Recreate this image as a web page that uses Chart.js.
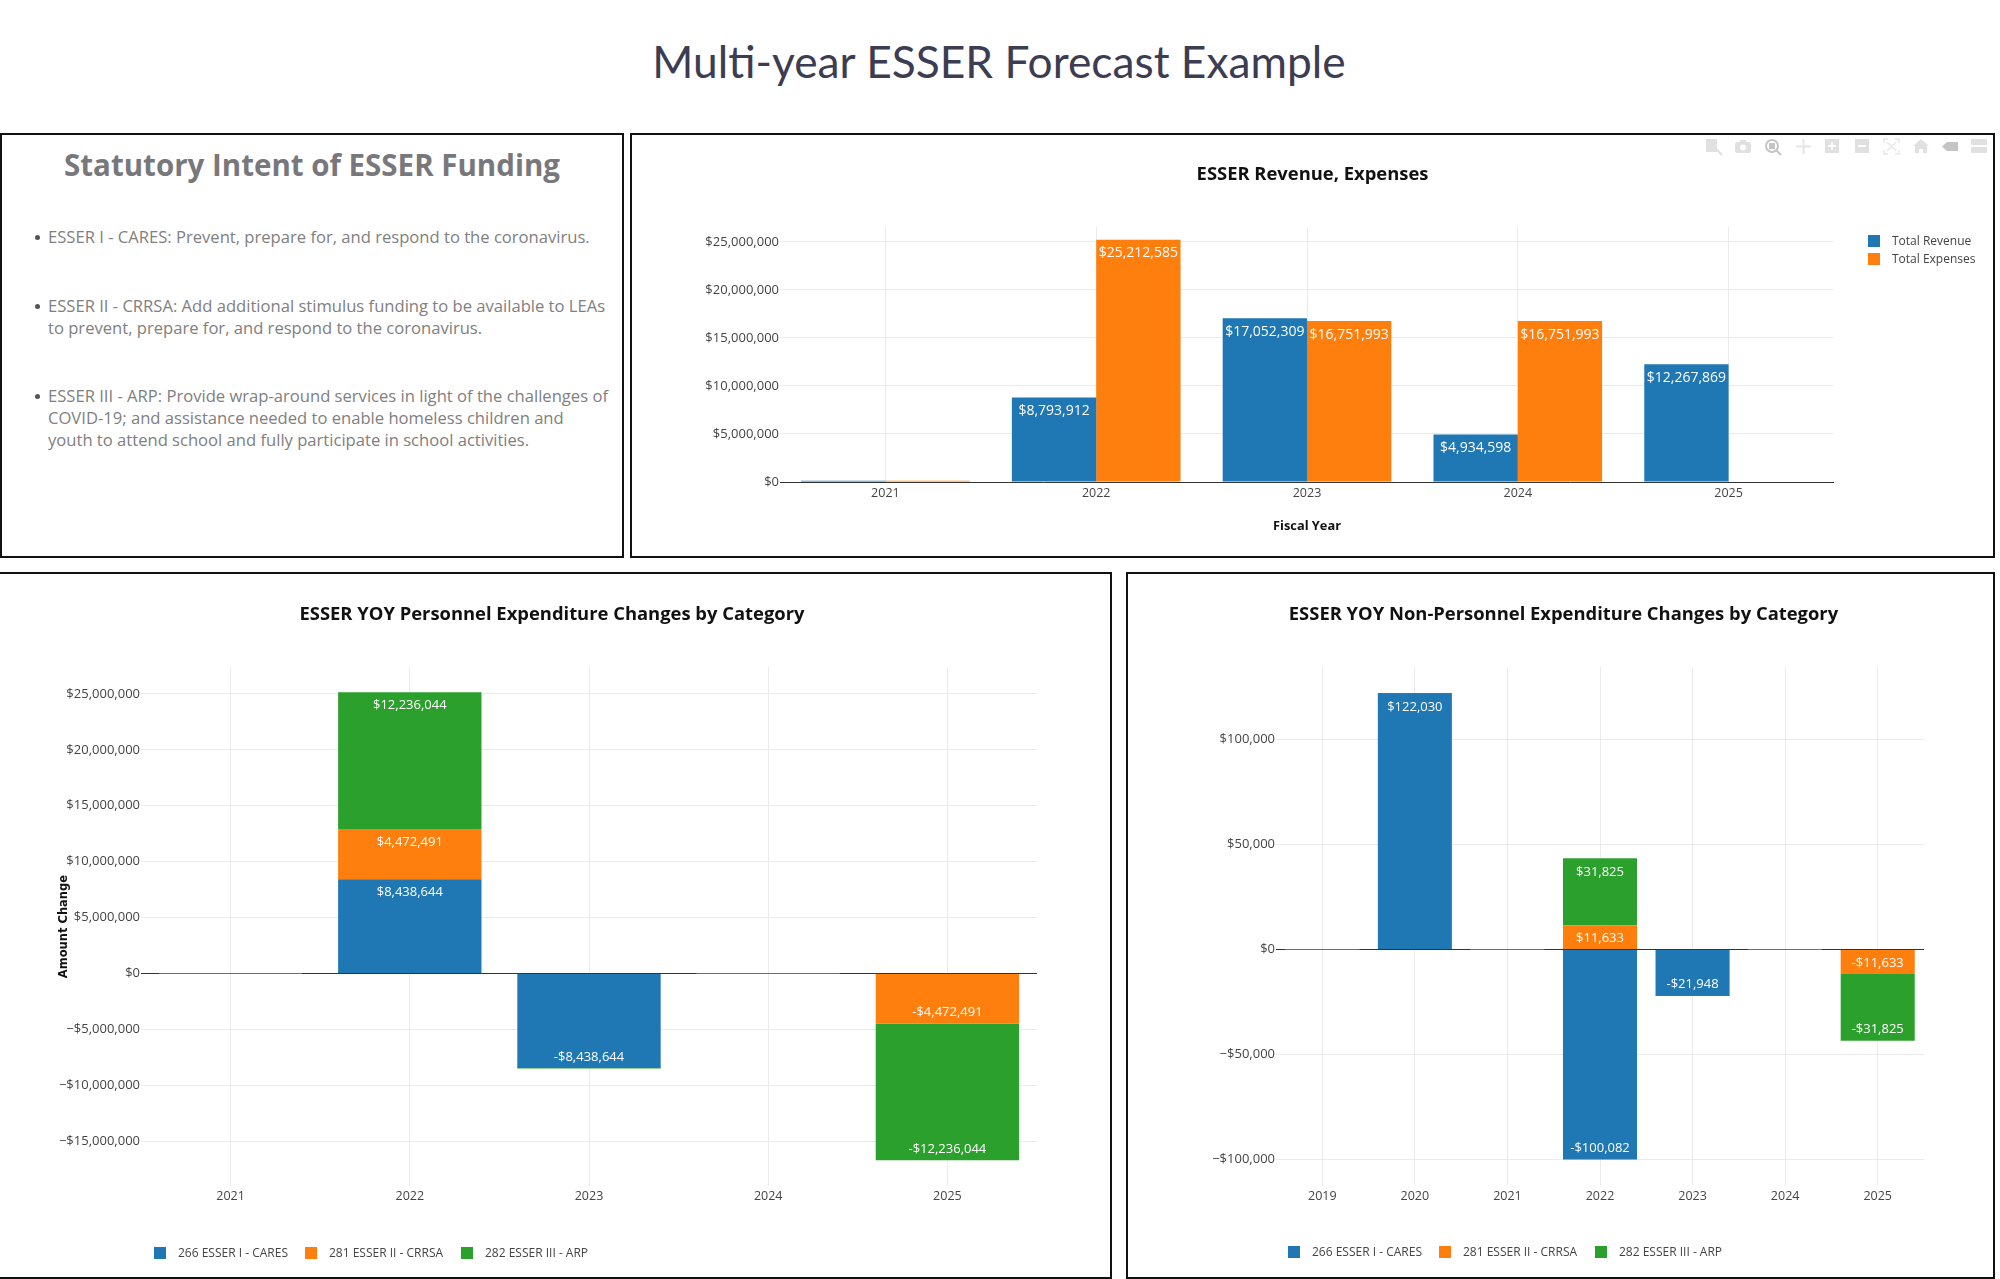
<!DOCTYPE html>
<html>
<head>
<meta charset="utf-8">
<title>Multi-year ESSER Forecast Example</title>
<script src="https://cdn.jsdelivr.net/npm/chart.js@4/dist/chart.umd.min.js"></script>
<style>
  html, body { margin: 0; padding: 0; background: #fff; }
  body { position: relative; width: 2000px; height: 1279px; overflow: hidden; font-family: "Open Sans", sans-serif; }
  h1 { position: absolute; left: 0; width: 1998px; top: 31px; margin: 0; text-align: center; font: 400 44.3px/60px Lato, sans-serif; color: #3c3c52; }
  .panel { position: absolute; box-sizing: border-box; border: 2px solid #111; background: #fff; }
  canvas { position: absolute; }
  #intent h2 { position: absolute; left: 0; width: 620px; top: 10px; margin: 0; text-align: center; font: 700 29.5px/40px "Open Sans", sans-serif; color: #78787c; }
  #intent p { position: absolute; left: 46px; margin: 0; font: 400 16.6px/22px "Open Sans", sans-serif; color: #808080; white-space: nowrap; }
  #intent p::before { content: ""; position: absolute; left: -13px; top: 9px; width: 5px; height: 5px; border-radius: 50%; background: #555; }
  .legend { position: absolute; font-size: 12px; line-height: 16px; color: #444; white-space: nowrap; }
  .legend i { position: absolute; width: 12px; height: 12px; top: 2px; left: 0; }
  .legend span { position: absolute; left: 24px; top: 0; }
  #modebar { position: absolute; left: 1703px; top: 136px; }
</style>
</head>
<body>
<h1>Multi-year ESSER Forecast Example</h1>

<div class="panel" id="intent" style="left:0;top:133px;width:624px;height:425px">
  <h2>Statutory Intent of ESSER Funding</h2>
  <p style="top:91px">ESSER I - CARES: Prevent, prepare for, and respond to the coronavirus.</p>
  <p style="top:160px">ESSER II - CRRSA: Add additional stimulus funding to be available to LEAs<br>to prevent, prepare for, and respond to the coronavirus.</p>
  <p style="top:250px">ESSER III - ARP: Provide wrap-around services in light of the challenges of<br>COVID-19; and assistance needed to enable homeless children and<br>youth to attend school and fully participate in school activities.</p>
</div>

<div class="panel" style="left:630px;top:133px;width:1365px;height:425px"></div>
<div class="panel" style="left:-2px;top:572px;width:1114px;height:707px"></div>
<div class="panel" style="left:1126px;top:572px;width:869px;height:707px"></div>

<canvas id="revenueChart" width="1361" height="421" style="left:632px;top:135px"></canvas>
<canvas id="personnelChart" width="1110" height="703" style="left:-3px;top:574px"></canvas>
<canvas id="nonPersonnelChart" width="865" height="703" style="left:1131px;top:574px"></canvas>

<div class="legend" id="revenueLegend"></div>
<div class="legend" id="personnelLegend"></div>
<div class="legend" id="nonPersonnelLegend"></div>

<svg id="modebar" width="290" height="22" fill="#e0e0e0" stroke="none">
  <g transform="translate(3,3)"><rect width="11" height="13"/><path d="M10 10l6 6" stroke="#e0e0e0" stroke-width="2"/></g>
  <g transform="translate(32,4)"><rect y="2" width="16" height="11" rx="2"/><rect x="5" width="6" height="3"/><circle cx="8" cy="7.5" r="3" fill="#fff"/></g>
  <g transform="translate(62,3)"><circle cx="7" cy="7" r="6" fill="#fff" stroke="#c4c4c4" stroke-width="2"/><rect x="4" y="4" width="6" height="6" fill="#c4c4c4"/><path d="M11 11l5 5" stroke="#c4c4c4" stroke-width="2"/></g>
  <g transform="translate(93,3)"><path d="M0 7.5h15M7.5 0v15" stroke="#e6e6e6" stroke-width="2"/></g>
  <g transform="translate(122,3)"><rect width="14" height="14"/><path d="M7 3v8M3 7h8" stroke="#fff" stroke-width="2"/></g>
  <g transform="translate(152,3)"><rect width="14" height="14"/><path d="M3 7h8" stroke="#fff" stroke-width="2"/></g>
  <g transform="translate(181,3)"><path d="M0 4V0h4M11 0h4v4M15 11v4h-4M4 15H0v-4M3 3l9 9M12 3l-9 9" fill="none" stroke="#e8e8e8" stroke-width="1.5"/></g>
  <g transform="translate(211,3)"><path d="M7 0l8 7h-2v7H9v-4H5v4H1V7H-1z"/></g>
  <g transform="translate(239,6)"><path d="M0 4.5L5 0h11v9H5z" fill="#c4c4c4"/></g>
  <g transform="translate(268,3)"><rect y="0" width="16" height="6" rx="1"/><rect y="8" width="16" height="6" rx="1"/></g>
</svg>

<script>
// Chart data
const revenueYears = ["2021", "2022", "2023", "2024", "2025"];
const totalRevenue = [122030, 8793912, 17052309, 4934598, 12267869];
const totalExpenses = [122030, 25212585, 16751993, 16751993, 0];
const revenueTicks = [0, 5000000, 10000000, 15000000, 20000000, 25000000];

// null = no mark at all, 0 = the thin line the last trace leaves on the zero line
const personnelYears = ["2021", "2022", "2023", "2024", "2025"];
const personnelCares = [null, 8438644, -8438644, null, null];
const personnelCrrsa = [null, 4472491, null, null, -4472491];
const personnelArp = [0, 12236044, 0, 0, -12236044];
const personnelTicks = [-15000000, -10000000, -5000000, 0, 5000000, 10000000, 15000000, 20000000, 25000000];

const nonPersonnelYears = ["2019", "2020", "2021", "2022", "2023", "2024", "2025"];
const nonPersonnelCares = [null, 122030, null, -100082, -21948, null, null];
const nonPersonnelCrrsa = [null, null, null, 11633, null, null, -11633];
const nonPersonnelArp = [0, 0, 0, 31825, 0, 0, -31825];
const nonPersonnelTicks = [-100000, -50000, 0, 50000, 100000];

const BLUE = "#1f77b4";
const ORANGE = "#ff7f0e";
const GREEN = "#2ca02c";
const FONT = "'Open Sans', sans-serif";

function money(v, minus) {
  return (v < 0 ? minus : "") + "$" + Math.abs(v).toLocaleString("en-US");
}

// White value labels inside the end of each bar
const barValueLabels = {
  id: "barValueLabels",
  afterDatasetsDraw(chart, args, opts) {
    const ctx = chart.ctx;
    ctx.save();
    ctx.fillStyle = "#fff";
    ctx.font = opts.size + "px " + FONT;
    ctx.textAlign = "center";
    ctx.textBaseline = "middle";
    chart.data.datasets.forEach((ds, i) => {
      chart.getDatasetMeta(i).data.forEach((bar, j) => {
        const v = ds.data[j];
        if (!v || Math.abs(bar.y - bar.base) < 16) return;
        ctx.fillText(money(v, "-"), bar.x, v < 0 ? bar.y - 11 : bar.y + 13.5);
      });
    });
    ctx.restore();
  }
};

function makeChart(id, cfg) {
  return new Chart(document.getElementById(id), {
    type: "bar",
    data: { labels: cfg.labels, datasets: cfg.datasets },
    plugins: [barValueLabels],
    options: {
      responsive: false,
      animation: false,
      devicePixelRatio: 1,
      datasets: { bar: { categoryPercentage: 0.8, barPercentage: 1, minBarLength: cfg.stacked ? 1 : 0 } },
      plugins: {
        legend: { display: false },
        tooltip: { enabled: false },
        barValueLabels: { size: cfg.labelSize },
        title: {
          display: true,
          text: cfg.title,
          color: "#111",
          font: { family: FONT, size: 18.4, weight: "bold" },
          padding: { top: cfg.titleTop, bottom: cfg.titleBottom }
        }
      },
      scales: {
        x: {
          stacked: cfg.stacked,
          grid: { color: "#ebebeb", offset: false, drawTicks: false },
          border: { display: false },
          ticks: { color: "#444", font: { family: FONT, size: 12.5 }, padding: cfg.xPad, maxRotation: 0, autoSkip: false },
          title: cfg.xTitle ? { display: true, text: cfg.xTitle, color: "#111", font: { family: FONT, size: 12.8, weight: "bold" }, padding: { top: 0, bottom: 22 } } : { display: false },
          afterFit: s => { s.height = cfg.xHeight; }
        },
        y: {
          stacked: cfg.stacked,
          min: cfg.min,
          max: cfg.max,
          afterBuildTicks: s => { s.ticks = cfg.ticks.map(value => ({ value })); },
          grid: {
            color: c => (c.tick.value === 0 ? "#333" : "#ebebeb"),
            drawTicks: false
          },
          border: { display: false },
          ticks: {
            color: "#444",
            font: { family: FONT, size: 13 },
            padding: 1,
            callback: v => money(v, "\u2212")
          },
          title: cfg.yTitle ? { display: true, text: cfg.yTitle, color: "#111", font: { family: "'DejaVu Sans', sans-serif", size: 11.5, weight: "bold" }, padding: { top: 60, bottom: 0 } } : { display: false },
          afterFit: s => { s.width = cfg.yWidth; }
        },
        // empty right-hand axis: keeps the title centred on the whole panel
        spacer: {
          position: "right",
          grid: { display: false },
          border: { display: false },
          ticks: { display: false },
          afterFit: s => { s.width = cfg.right; }
        }
      }
    }
  });
}

// HTML legend built from the chart's own datasets
function htmlLegend(elId, chart, left, top, offsets) {
  const el = document.getElementById(elId);
  el.style.left = left + "px";
  el.style.top = top + "px";
  chart.data.datasets.forEach((ds, i) => {
    const box = document.createElement("i");
    box.style.background = ds.backgroundColor;
    box.style.left = offsets[i][0] + "px";
    box.style.top = (offsets[i][1] + 2) + "px";
    const txt = document.createElement("span");
    txt.textContent = ds.label;
    txt.style.left = (offsets[i][0] + 24) + "px";
    txt.style.top = offsets[i][1] + "px";
    el.appendChild(box);
    el.appendChild(txt);
  });
}

const revenueChart = makeChart("revenueChart", {
  title: "ESSER Revenue, Expenses",
  labels: revenueYears,
  datasets: [
    { label: "Total Revenue", data: totalRevenue, backgroundColor: BLUE },
    { label: "Total Expenses", data: totalExpenses, backgroundColor: ORANGE }
  ],
  stacked: false, min: 0, max: 26540000, ticks: revenueTicks,
  labelSize: 14, titleTop: 29, titleBottom: 41,
  yWidth: 148, right: 159, xHeight: 74, xPad: 4, xTitle: "Fiscal Year"
});
htmlLegend("revenueLegend", revenueChart, 1868, 233, [[0, 0], [0, 18]]);

const personnelChart = makeChart("personnelChart", {
  title: "ESSER YOY Personnel Expenditure Changes by Category",
  labels: personnelYears,
  datasets: [
    { label: "266 ESSER I - CARES", data: personnelCares, backgroundColor: BLUE },
    { label: "281 ESSER II - CRRSA", data: personnelCrrsa, backgroundColor: ORANGE },
    { label: "282 ESSER III - ARP", data: personnelArp, backgroundColor: GREEN }
  ],
  stacked: true, min: -19000000, max: 27400000, ticks: personnelTicks,
  labelSize: 13, titleTop: 30, titleBottom: 41,
  yWidth: 144, right: 70, xHeight: 91, xPad: 3, yTitle: "Amount Change"
});
htmlLegend("personnelLegend", personnelChart, 154, 1245, [[0, 0], [151, 0], [307, 0]]);

const nonPersonnelChart = makeChart("nonPersonnelChart", {
  title: "ESSER YOY Non-Personnel Expenditure Changes by Category",
  labels: nonPersonnelYears,
  datasets: [
    { label: "266 ESSER I - CARES", data: nonPersonnelCares, backgroundColor: BLUE },
    { label: "281 ESSER II - CRRSA", data: nonPersonnelCrrsa, backgroundColor: ORANGE },
    { label: "282 ESSER III - ARP", data: nonPersonnelArp, backgroundColor: GREEN }
  ],
  stacked: true, min: -112200, max: 134600, ticks: nonPersonnelTicks,
  labelSize: 13, titleTop: 30, titleBottom: 41,
  yWidth: 145, right: 72, xHeight: 92, xPad: 4
});
htmlLegend("nonPersonnelLegend", nonPersonnelChart, 1288, 1244, [[0, 0], [151, 0], [307, 0]]);
</script>
</body>
</html>
